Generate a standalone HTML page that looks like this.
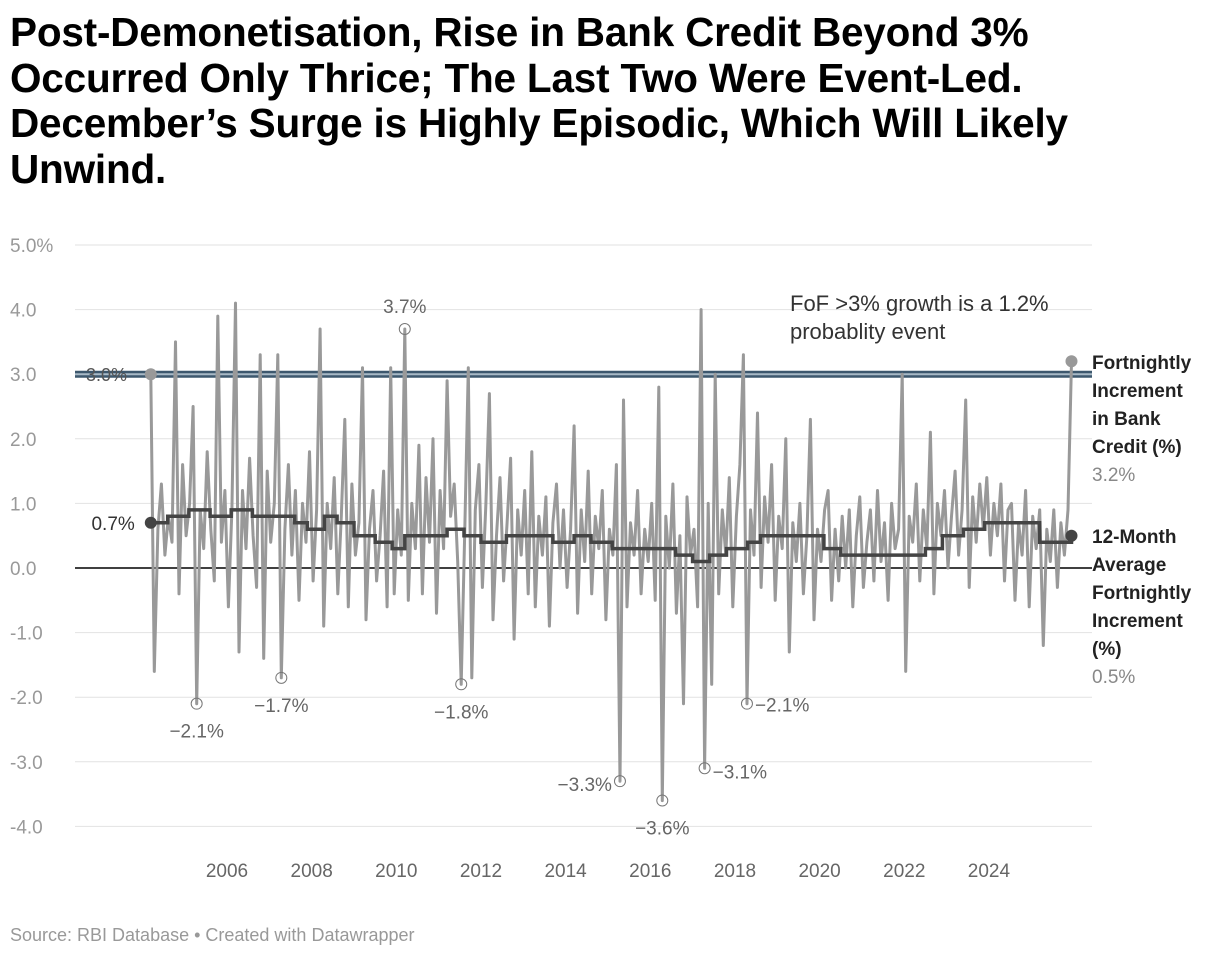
<!DOCTYPE html>
<html><head><meta charset="utf-8">
<style>
body{margin:0;background:#fff;width:1220px;height:960px;overflow:hidden;font-family:"Liberation Sans",sans-serif;}
h1{position:absolute;left:10px;top:10px;margin:0;font-size:40.5px;line-height:45.5px;font-weight:bold;color:#000;width:1200px;white-space:nowrap;letter-spacing:-0.2px}
#src{position:absolute;left:10px;top:925px;font-size:18px;color:#999}
svg{position:absolute;left:0;top:0}
</style></head><body>
<h1>Post-Demonetisation, Rise in Bank Credit Beyond 3%<br>Occurred Only Thrice; The Last Two Were Event-Led.<br>December’s Surge is Highly Episodic, Which Will Likely<br>Unwind.</h1>
<svg id="chart" width="1220" height="960"></svg>
<div id="src">Source: RBI Database • Created with Datawrapper</div>
<script>
const startYear = 2004.2;
const stepYear = 1/12;
const fofValues = [3.0,-1.6,0.6,1.3,0.2,0.8,0.4,3.5,-0.4,1.6,0.5,1.0,
2.5,-2.1,0.9,0.3,1.8,0.6,-0.2,3.9,0.4,1.2,-0.6,0.9,
4.1,-1.3,1.2,0.3,1.7,0.5,-0.3,3.3,-1.4,1.5,0.4,1.0,
3.3,-1.7,0.6,1.6,0.2,1.2,-0.5,1.0,0.4,1.8,-0.2,0.9,
3.7,-0.9,1.0,0.3,1.4,-0.4,0.8,2.3,-0.6,1.3,0.2,0.7,
3.1,-0.8,0.6,1.2,-0.2,0.5,1.5,-0.6,3.1,-0.4,0.9,0.2,
3.7,-0.5,1.0,0.3,1.9,-0.4,1.4,0.4,2.0,-0.7,1.2,0.3,
2.9,0.8,1.3,0.1,-1.8,0.6,3.1,-1.7,0.9,1.6,-0.3,1.0,
2.7,-0.8,0.5,1.4,-0.2,0.7,1.7,-1.1,0.9,0.2,1.2,-0.4,
1.8,-0.6,0.8,0.2,1.1,-0.9,0.7,1.3,0.0,0.9,-0.3,0.6,
2.2,-0.7,0.9,0.1,1.5,-0.4,0.8,0.3,1.2,-0.8,0.6,0.2,
1.6,-3.3,2.6,-0.6,0.7,0.2,1.2,-0.4,0.6,0.1,1.0,-0.5,
2.8,-3.6,0.8,0.0,1.3,-0.7,0.5,-2.1,1.1,0.2,0.6,-0.6,
4.0,-3.1,1.0,-1.8,3.0,-0.4,0.9,0.2,1.4,-0.6,0.8,1.6,
3.3,-2.1,0.9,0.2,2.4,-0.3,1.1,0.4,1.6,-0.5,0.8,0.3,
2.0,-1.3,0.7,0.1,1.0,-0.4,0.5,2.3,-0.8,0.6,0.1,0.9,
1.2,-0.5,0.6,-0.2,0.8,0.0,0.9,-0.6,0.5,1.1,-0.3,0.4,
0.9,-0.2,1.2,0.1,0.7,-0.5,1.0,0.3,0.6,3.0,-1.6,0.8,
0.4,1.3,-0.2,0.9,0.3,2.1,-0.4,1.0,0.5,1.2,0.0,0.8,
1.5,0.2,0.9,2.6,-0.3,1.1,0.4,1.3,0.6,1.4,0.2,1.0,
0.5,1.3,-0.2,0.9,1.0,-0.5,0.7,0.2,1.2,-0.6,0.8,0.3,
0.9,-1.2,0.6,0.1,0.9,-0.3,0.7,0.2,0.9,3.2];
const avgYears = [2004.2,2004.6,2005.1,2005.6,2006.1,2006.6,2007.1,2007.6,2007.9,2008.3,2008.6,2009.0,2009.5,2009.9,2010.2,2010.7,2011.2,2011.6,2012.0,2012.6,2013.1,2013.7,2014.2,2014.6,2015.1,2015.6,2016.1,2016.6,2017.0,2017.4,2017.8,2018.3,2018.6,2019.6,2020.1,2020.5,2021.0,2022.0,2022.5,2022.9,2023.4,2023.9,2024.8,2025.2,2025.6,2025.95];
const avgValues = [0.7,0.8,0.9,0.8,0.9,0.8,0.8,0.7,0.6,0.8,0.7,0.5,0.4,0.3,0.5,0.5,0.6,0.5,0.4,0.5,0.5,0.4,0.5,0.4,0.3,0.3,0.3,0.2,0.1,0.2,0.3,0.4,0.5,0.5,0.3,0.2,0.2,0.2,0.3,0.5,0.6,0.7,0.7,0.4,0.4,0.5];
const yTicks = [5,4,3,2,1,0,-1,-2,-3,-4];
const yTickLabels = ["5.0%","4.0","3.0","2.0","1.0","0.0","-1.0","-2.0","-3.0","-4.0"];
const xTicks = [2006,2008,2010,2012,2014,2016,2018,2020,2022,2024];
const callouts = [[13,"−2.1%",0,34],[37,"−1.7%",0,34],[72,"3.7%",0,-16],[88,"−1.8%",0,34],[133,"−3.3%",-1,10],[145,"−3.6%",0,34],[157,"−3.1%",1,10],[169,"−2.1%",1,8]];

const NS="http://www.w3.org/2000/svg";
const svg=document.getElementById('chart');
const X=y=>227+(y-2006)*42.33;
const Y=v=>568-v*64.6;
function mk(t,a,p){const e=document.createElementNS(NS,t);for(const k in a)e.setAttribute(k,a[k]);(p||svg).appendChild(e);return e;}
yTicks.forEach((v,i)=>{
  const l=mk('line',{x1:75,x2:1092,y1:Y(v),y2:Y(v),stroke:v===0?'#000':'#e2e2e2','stroke-width':v===0?1.5:1});
  
  
  const t=mk('text',{x:10,y:Y(v)+7,'font-size':19,fill:'#999'});t.textContent=yTickLabels[i];
  
  
});
xTicks.forEach(yr=>{
  const t=mk('text',{x:X(yr),y:877,'font-size':19,fill:'#666','text-anchor':'middle'});t.textContent=yr;
  
  
});
const th=mk('line',{x1:75,x2:1092,y1:Y(3),y2:Y(3),stroke:'#3d586e','stroke-width':7});


mk('line',{x1:75,x2:1092,y1:Y(3),y2:Y(3),stroke:'#a9bac7','stroke-width':2});
const tl=mk('text',{x:86,y:Y(3)+7,'font-size':18,fill:'#555'});tl.textContent='3.0%';


const pts=fofValues.map((v,i)=>X(startYear+i*stepYear).toFixed(1)+','+Y(v).toFixed(1)).join(' ');
const fl=mk('polyline',{points:pts,fill:'none',stroke:'#999','stroke-width':3,'stroke-linejoin':'round'});


let d='';avgYears.forEach((yr,i)=>{d+=(i?'L':'M')+X(yr).toFixed(1)+','+(i?Y(avgValues[i-1]).toFixed(1)+'L'+X(yr).toFixed(1)+',':'')+Y(avgValues[i]).toFixed(1);});
const al=mk('path',{d:d,fill:'none',stroke:'#444','stroke-width':3.5});


const lastI=fofValues.length-1;
const d1=mk('circle',{cx:X(startYear),cy:Y(fofValues[0]),r:6,fill:'#999'});


const d2=mk('circle',{cx:X(startYear+lastI*stepYear),cy:Y(fofValues[lastI]),r:6,fill:'#999'});


const d3=mk('circle',{cx:X(avgYears[0]),cy:Y(avgValues[0]),r:6,fill:'#444'});


const d4=mk('circle',{cx:X(avgYears[avgYears.length-1]),cy:Y(avgValues[avgValues.length-1]),r:6,fill:'#444'});


const sl=mk('text',{x:X(avgYears[0])-16,y:Y(avgValues[0])+7,'font-size':19,fill:'#333','text-anchor':'end'});sl.textContent=avgValues[0].toFixed(1)+'%';


callouts.forEach(c=>{
  const i=c[0],v=fofValues[i],cx=X(startYear+i*stepYear),cy=Y(v);
  const ci=mk('circle',{cx:cx,cy:cy,r:5.5,fill:'none',stroke:'#777','stroke-width':1});
  
  
  const dx=c[2]<0?-8:c[2]>0?8:0;
  const t=mk('text',{x:cx+dx,y:cy+c[3],'font-size':19,fill:'#666','text-anchor':c[2]<0?'end':c[2]>0?'start':'middle'});
  t.textContent=c[1];
  
  
});
const an=mk('text',{x:790,y:311,'font-size':22,fill:'#333'});


mk('tspan',{x:790,dy:0},an).textContent='FoF >3% growth is a 1.2%';
mk('tspan',{x:790,dy:28},an).textContent='probablity event';
function block(lines,y0,val,name){
  const g=mk('text',{x:1092,y:y0,'font-size':19,'font-weight':'bold',fill:'#222'});
  
  
  lines.forEach((s,i)=>{mk('tspan',{x:1092,dy:i?28:0},g).textContent=s;});
  const t=mk('text',{x:1092,y:y0+lines.length*28,'font-size':19,fill:'#888'});t.textContent=val;
  
  
}
block(['Fortnightly','Increment','in Bank','Credit (%)'],369,fofValues[lastI].toFixed(1)+'%','fof-legend-label');
block(['12-Month','Average','Fortnightly','Increment','(%)'],543,avgValues[avgValues.length-1].toFixed(1)+'%','avg-legend-label');
</script>
</body></html>
